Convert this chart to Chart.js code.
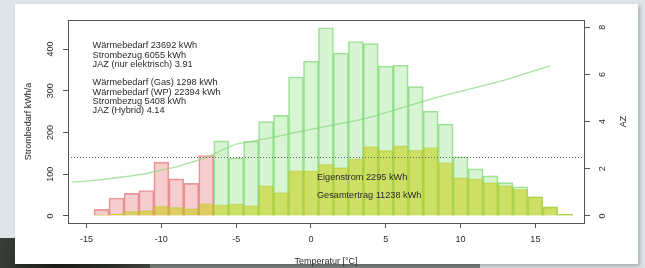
<!DOCTYPE html>
<html>
<head>
<meta charset="utf-8">
<script src="https://cdn.jsdelivr.net/npm/chart.js@4"></script>
<style>
  html, body { margin: 0; padding: 0; }
  body { width: 645px; height: 268px; position: relative; overflow: hidden; background: #dde5e8; }
  #photo { position: absolute; left: 0; top: 238px; width: 150px; height: 30px;
    background: linear-gradient(100deg, #3a3d38 0%, #1f211e 40%, #2c2e2a 70%, #4a4d48 100%); }
  #strip { position: absolute; left: 150px; top: 264px; width: 330px; height: 4px; background: #7b8482; }
  #card { position: absolute; left: 15px; top: 4px; width: 623px; height: 260px; background: #fff;
    box-shadow: 2px 2px 4px rgba(0, 0, 0, 0.25); }
  canvas { position: absolute; left: 0; top: 0; }
</style>
</head>
<body>
<div id="photo"></div>
<div id="strip"></div>
<div id="card"></div>
<canvas id="chart" width="645" height="268"></canvas>
<script>
  // Temperaturklassen (1 K breit)
  var tempsGas = [-14, -13, -12, -11, -10, -9, -8, -7];
  var stromGas = [16, 43, 54, 61, 129, 89, 78, 145];

  var tempsWP = [-6, -5, -4, -3, -2, -1, 0, 1, 2, 3, 4, 5, 6, 7, 8, 9, 10, 11, 12, 13, 14, 15, 16, 17];
  var stromWP = [180, 139, 179, 226, 241, 333, 371, 451, 390, 418, 413, 359, 361, 310, 251, 220, 142, 113, 96, 80, 70, 46, 22, 4];

  var tempsPV = [-14, -13, -12, -11, -10, -9, -8, -7, -6, -5, -4, -3, -2, -1, 0, 1, 2, 3, 4, 5, 6, 7, 8, 9, 10, 11, 12, 13, 14, 15, 16, 17];
  var eigenstrom = [2, 5, 12, 13, 24, 21, 18, 30, 27, 29, 25, 73, 56, 108, 108, 124, 116, 137, 166, 157, 168, 158, 164, 128, 92, 89, 80, 73, 64, 46, 22, 4];

  // Arbeitszahl ueber Aussentemperatur
  var azTemps = [-16, -15, -14, -13, -12, -11, -10, -9, -8, -7, -6, -5, -4, -3, -2, -1, 0, 1, 2, 3, 4, 5, 6, 7, 8, 9, 10, 11, 12, 13, 14, 15, 16];
  var az = [1.43, 1.48, 1.54, 1.62, 1.70, 1.80, 1.94, 2.08, 2.27, 2.47, 2.78, 3.05, 3.16, 3.28, 3.41, 3.54, 3.67, 3.80, 3.92, 4.04, 4.19, 4.38, 4.57, 4.76, 4.95, 5.12, 5.28, 5.44, 5.60, 5.77, 5.97, 6.17, 6.36];
  var azGrenze = 2.5;

  var xTicks = [-15, -10, -5, 0, 5, 10, 15];
  var yTicks = [0, 100, 200, 300, 400];
  var azTicks = [0, 2, 4, 6, 8];

  var infoLines = [
    'Wärmebedarf 23692 kWh',
    'Strombezug 6055 kWh',
    'JAZ (nur elektrisch) 3.91',
    '',
    'Wärmebedarf (Gas) 1298 kWh',
    'Wärmebedarf (WP) 22394 kWh',
    'Strombezug 5408 kWh',
    'JAZ (Hybrid) 4.14'
  ];
  var pvLines = ['Eigenstrom 2295 kWh', 'Gesamtertrag 11238 kWh'];

  var FONT = 'Liberation Sans, Arial, sans-serif';
  var AXIS = '#555';
  var TEXT = '#2a2a2a';

  function pts(xs, ys) {
    return xs.map(function (x, i) { return { x: x, y: ys[i] }; });
  }
  function fixTicks(list) {
    return function (scale) {
      scale.ticks = list.map(function (v) { return { value: v }; });
    };
  }

  var rPlot = {
    id: 'rPlot',
    afterDatasetsDraw: function (chart) {
      var ctx = chart.ctx;
      var a = chart.chartArea;
      var sx = chart.scales.x, sy = chart.scales.y, sa = chart.scales.az;
      ctx.save();

      // Grenz-AZ (gepunktet)
      var yg = Math.round(sa.getPixelForValue(azGrenze)) + 0.5;
      ctx.strokeStyle = '#666';
      ctx.lineWidth = 1;
      ctx.setLineDash([1, 2]);
      ctx.beginPath();
      ctx.moveTo(a.left, yg);
      ctx.lineTo(a.right, yg);
      ctx.stroke();
      ctx.setLineDash([]);

      // Rahmen
      ctx.strokeStyle = AXIS;
      ctx.strokeRect(Math.round(a.left) + 0.5, Math.round(a.top) + 0.5,
        Math.round(a.right - a.left), Math.round(a.bottom - a.top));

      // Texte
      ctx.fillStyle = TEXT;
      ctx.textAlign = 'left';
      ctx.textBaseline = 'middle';
      ctx.font = '9.2px ' + FONT;
      var x0 = sx.getPixelForValue(-14.6);
      var y0 = sy.getPixelForValue(408);
      infoLines.forEach(function (t, i) {
        ctx.fillText(t, x0, y0 + i * 9.3);
      });
      var x1 = sx.getPixelForValue(0.4);
      ctx.fillText(pvLines[0], x1, sy.getPixelForValue(93));
      ctx.fillText(pvLines[1], x1, sy.getPixelForValue(48));

      // rechte Achsenbeschriftung (R liest von unten nach oben)
      ctx.font = '9px ' + FONT;
      ctx.textAlign = 'center';
      ctx.translate(624, (a.top + a.bottom) / 2);
      ctx.rotate(-Math.PI / 2);
      ctx.fillText('AZ', 0, 0);
      ctx.restore();
    }
  };

  var ctx = document.getElementById('chart').getContext('2d');
  new Chart(ctx, {
    type: 'bar',
    data: {
      datasets: [
        {
          type: 'line',
          data: pts(azTemps, az),
          yAxisID: 'az',
          borderColor: 'rgba(140, 215, 130, 0.75)',
          borderWidth: 1.3,
          pointRadius: 0,
          tension: 0,
          order: 0
        },
        {
          data: pts(tempsPV, eigenstrom),
          yAxisID: 'y',
          backgroundColor: 'rgba(198, 204, 0, 0.52)',
          borderColor: 'rgba(185, 200, 40, 0.45)',
          borderWidth: 1,
          grouped: false,
          barPercentage: 1,
          categoryPercentage: 1,
          order: 1
        },
        {
          data: pts(tempsGas, stromGas),
          yAxisID: 'y',
          backgroundColor: 'rgba(230, 120, 125, 0.36)',
          borderColor: 'rgba(220, 90, 90, 0.6)',
          borderWidth: 1,
          grouped: false,
          barPercentage: 1,
          categoryPercentage: 1,
          order: 2
        },
        {
          data: pts(tempsWP, stromWP),
          yAxisID: 'y',
          backgroundColor: 'rgba(150, 225, 140, 0.38)',
          borderColor: 'rgba(120, 212, 110, 0.7)',
          borderWidth: 1,
          grouped: false,
          barPercentage: 1,
          categoryPercentage: 1,
          order: 2
        }
      ]
    },
    options: {
      responsive: false,
      animation: false,
      devicePixelRatio: 1,
      layout: { padding: { top: 20, left: 0, right: 0, bottom: 0 } },
      plugins: { legend: { display: false }, tooltip: { enabled: false } },
      scales: {
        x: {
          type: 'linear',
          min: -16.24,
          max: 18.25,
          offset: false,
          afterBuildTicks: fixTicks(xTicks),
          afterFit: function (s) { s.height = 45; },
          grid: { offset: false, drawOnChartArea: false, color: AXIS, tickColor: AXIS, tickLength: 5 },
          border: { display: false },
          ticks: { font: { family: FONT, size: 9 }, color: TEXT, padding: 6, maxRotation: 0 },
          title: { display: true, text: 'Temperatur [°C]', color: TEXT, font: { family: FONT, size: 9 }, padding: { top: 0, bottom: 1 } }
        },
        y: {
          position: 'left',
          min: -16.8,
          max: 469.5,
          afterBuildTicks: fixTicks(yTicks),
          afterFit: function (s) { s.width = 68; },
          grid: { drawOnChartArea: false, color: AXIS, tickColor: AXIS, tickLength: 5 },
          border: { display: false },
          ticks: { font: { family: FONT, size: 9 }, color: TEXT, padding: 5, minRotation: 90, maxRotation: 90, crossAlign: 'center' },
          title: { display: true, text: 'Strombedarf kWh/a', color: TEXT, font: { family: FONT, size: 9 }, padding: { top: 23, bottom: 0 } }
        },
        az: {
          position: 'right',
          min: -0.30,
          max: 8.31,
          afterBuildTicks: fixTicks(azTicks),
          afterFit: function (s) { s.width = 61; },
          grid: { drawOnChartArea: false, color: AXIS, tickColor: AXIS, tickLength: 6 },
          border: { display: false },
          ticks: { font: { family: FONT, size: 9 }, color: TEXT, padding: 10, minRotation: 90, maxRotation: 90, crossAlign: 'center' }
        }
      }
    },
    plugins: [rPlot]
  });
</script>
</body>
</html>
